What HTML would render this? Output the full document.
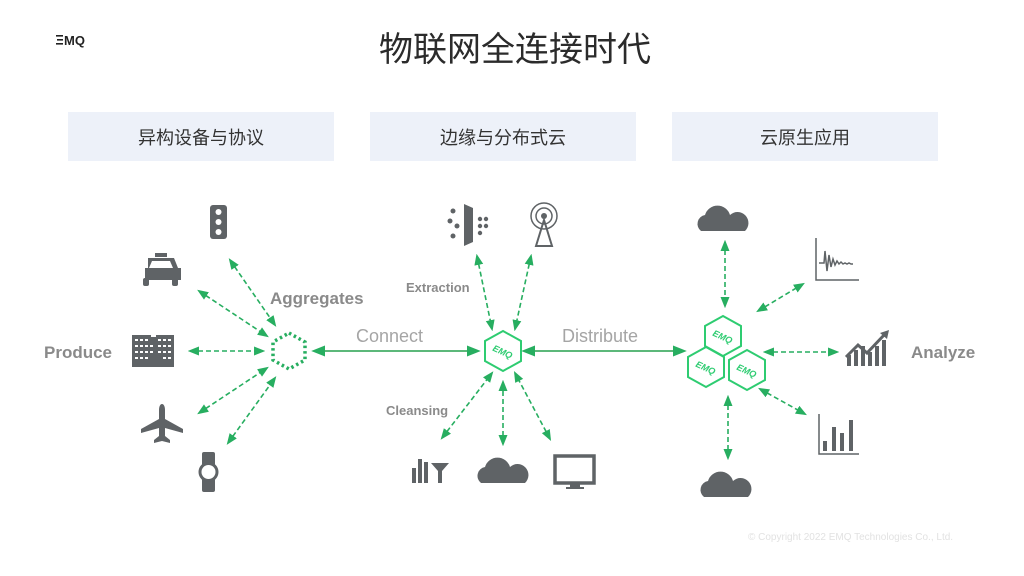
<!DOCTYPE html>
<html><head><meta charset="utf-8"><style>
html,body{margin:0;padding:0;background:#fff;}
svg{display:block;}
text{font-family:"Liberation Sans","Noto Sans CJK SC",sans-serif;}
</style></head><body>
<svg width="1024" height="576" viewBox="0 0 1024 576" xmlns="http://www.w3.org/2000/svg">
<defs>
<marker id="a" viewBox="0 0 10 10" refX="8" refY="5" markerWidth="7" markerHeight="7" orient="auto-start-reverse"><path d="M0,1 L10,5 L0,9 z" fill="#27ae60"/></marker>
</defs>
<g fill="#222"><rect x="56" y="35" width="7" height="1.6"/><rect x="57" y="39" width="6" height="1.6"/><rect x="56" y="43" width="7" height="1.6"/></g>
<text x="64" y="45" font-size="13" font-weight="bold" fill="#222">MQ</text>
<text x="515" y="61" font-size="34" fill="#2b2b2b" text-anchor="middle">物联网全连接时代</text>
<rect x="68" y="112" width="266" height="49" fill="#edf1f9"/>
<rect x="370" y="112" width="266" height="49" fill="#edf1f9"/>
<rect x="672" y="112" width="266" height="49" fill="#edf1f9"/>
<text x="201" y="144" font-size="18" fill="#333" text-anchor="middle">异构设备与协议</text>
<text x="503" y="144" font-size="18" fill="#333" text-anchor="middle">边缘与分布式云</text>
<text x="805" y="144" font-size="18" fill="#333" text-anchor="middle">云原生应用</text>
<g fill="#8a8a8a" font-weight="bold">
<text x="44" y="358" font-size="17">Produce</text>
<text x="270" y="304" font-size="17">Aggregates</text>
<text x="406" y="292" font-size="13">Extraction</text>
<text x="386" y="415" font-size="13">Cleansing</text>
<text x="911" y="358" font-size="17">Analyze</text>
</g>
<text x="356" y="342" font-size="18" fill="#a5a5a5">Connect</text>
<text x="562" y="342" font-size="18" fill="#a5a5a5">Distribute</text>
<text x="748" y="540" font-size="10" fill="#e2e2e2">© Copyright 2022 EMQ Technologies Co., Ltd.</text>
<g stroke="#27ae60" stroke-width="1.6" stroke-dasharray="5,3" fill="none" marker-start="url(#a)" marker-end="url(#a)">
<line x1="230" y1="260" x2="275" y2="325"/>
<line x1="199" y1="291" x2="267" y2="336"/>
<line x1="190" y1="351" x2="263" y2="351"/>
<line x1="199" y1="413" x2="267" y2="368"/>
<line x1="228" y1="443" x2="275" y2="378"/>
<line x1="477" y1="256" x2="492" y2="329"/>
<line x1="531" y1="256" x2="515" y2="329"/>
<line x1="442" y1="438" x2="492" y2="373"/>
<line x1="503" y1="444" x2="503" y2="382"/>
<line x1="550" y1="439" x2="515" y2="373"/>
<line x1="725" y1="242" x2="725" y2="306"/>
<line x1="728" y1="397" x2="728" y2="458"/>
<line x1="758" y1="311" x2="803" y2="284"/>
<line x1="765" y1="352" x2="837" y2="352"/>
<line x1="760" y1="389" x2="805" y2="414"/>
</g>
<g stroke="#5cb87a" stroke-width="2" marker-start="url(#a)" marker-end="url(#a)">
<line x1="314" y1="351" x2="478" y2="351"/>
<line x1="524" y1="351" x2="684" y2="351"/>
</g>
<polygon points="289,333 305,342 305,360 289,369 273,360 273,342" fill="none" stroke="#27ae60" stroke-width="3.5" stroke-dasharray="2.5,3"/>
<g fill="none" stroke="#2ecc71" stroke-width="2">
<polygon points="503,331 521,341 521,361 503,371 485,361 485,341"/>
<polygon points="723,316 741,326 741,346 723,356 705,346 705,326"/>
<polygon points="706,347 724,357 724,377 706,387 688,377 688,357"/>
<polygon points="747,350 765,360 765,380 747,390 729,380 729,360"/>
</g>
<g fill="#2ecc71" font-size="9" font-weight="bold" font-style="italic" text-anchor="middle">
<text x="503" y="355" transform="rotate(25 503 351)">EMQ</text>
<text x="723" y="340" transform="rotate(25 723 336)">EMQ</text>
<text x="706" y="371" transform="rotate(25 706 367)">EMQ</text>
<text x="747" y="374" transform="rotate(25 747 370)">EMQ</text>
</g>
<g fill="#5f6366">
<rect x="210" y="205" width="17" height="34" rx="3"/>
<g fill="#fff"><circle cx="218.5" cy="212" r="3"/><circle cx="218.5" cy="222" r="3"/><circle cx="218.5" cy="232" r="3"/></g>
<rect x="155" y="253" width="12" height="4"/>
<path d="M148,258 h26 l4,10 h3 v12 h-36 v-12 h3 z"/>
<rect x="143" y="278" width="6" height="8" rx="2"/><rect x="172" y="278" width="6" height="8" rx="2"/>
<path d="M152,261 h18 l3,7 h-24 z" fill="#fff"/>
<rect x="132" y="335" width="42" height="32"/>
<path d="M162,404 c2,0 3,3 3,6 v9 l18,10 v4 l-18,-5 v8 l5,4 v3 l-8,-2 l-8,2 v-3 l5,-4 v-8 l-18,5 v-4 l18,-10 v-9 c0,-3 1,-6 3,-6 z"/>
<rect x="202" y="452" width="13" height="40" rx="2"/><circle cx="208.5" cy="472" r="10"/>
<circle cx="208.5" cy="472" r="7" fill="#fff"/>
<path d="M464,204 l9,4 v34 l-9,4 z"/>
<circle cx="453" cy="211" r="2.5"/><circle cx="450" cy="221" r="2.5"/><circle cx="457" cy="226" r="2.5"/><circle cx="453" cy="236" r="2.5"/>
<circle cx="480" cy="219" r="2.2"/><circle cx="486" cy="219" r="2.2"/><circle cx="480" cy="226" r="2.2"/><circle cx="486" cy="226" r="2.2"/><circle cx="480" cy="233" r="2.2"/>
<path d="M544,220 l-8,26 h16 z" fill="none" stroke="#5f6366" stroke-width="2"/>
<circle cx="544" cy="216" r="3"/>
<circle cx="544" cy="216" r="8" fill="none" stroke="#5f6366" stroke-width="1.5"/>
<circle cx="544" cy="216" r="13" fill="none" stroke="#5f6366" stroke-width="1.5"/>
<rect x="412" y="468" width="4" height="15"/><rect x="418" y="459" width="4" height="24"/><rect x="424" y="462" width="4" height="21"/>
<path d="M431,463 h18 l-7,8 v12 h-4 v-12 z"/>
<path d="M481,483 a9,9 0 0 1 4,-16 a13,13 0 0 1 25,0 a9,9 0 0 1 15,16 z"/>
<path d="M701,231 a9,9 0 0 1 4,-16 a13,13 0 0 1 25,0 a9,9 0 0 1 15,16 z"/>
<path d="M704,497 a9,9 0 0 1 4,-16 a13,13 0 0 1 25,0 a9,9 0 0 1 15,16 z"/>
<rect x="555" y="456" width="39" height="27" fill="none" stroke="#5f6366" stroke-width="3.5"/>
<rect x="570" y="484" width="10" height="4"/><rect x="566" y="487" width="18" height="2"/>
<rect x="847" y="355" width="4" height="11"/><rect x="854" y="350" width="4" height="16"/><rect x="861" y="346" width="4" height="20"/><rect x="868" y="352" width="4" height="14"/><rect x="875" y="346" width="4" height="20"/><rect x="882" y="340" width="4" height="26"/>
<path d="M846,357 l12,-12 l9,8 l18,-19" fill="none" stroke="#5f6366" stroke-width="3"/>
<path d="M880,333 l9,-3 l-2,9 z"/>
</g>
<g fill="none" stroke="#5f6366" stroke-width="1.5">
<path d="M816,238 v42 h43"/>
<path d="M819,263 h5 l1,-12 l2,20 l2,-16 l2,12 l2,-8 l2,6 l2,-4 l2,3 l2,-2 l2,2 l2,-1 l2,1 l2,-1 l2,1 l2,0"/>
<path d="M819,414 v40 h40"/>
</g>
<g fill="#5f6366"><rect x="823" y="441" width="4" height="10"/><rect x="832" y="427" width="4" height="24"/><rect x="840" y="433" width="4" height="18"/><rect x="849" y="420" width="4" height="31"/></g>
<g fill="#fff">
<rect x="135" y="339" width="3" height="2"/><rect x="140" y="339" width="3" height="2"/><rect x="145" y="339" width="3" height="2"/><rect x="158" y="339" width="3" height="2"/><rect x="163" y="339" width="3" height="2"/><rect x="168" y="339" width="3" height="2"/>
<rect x="135" y="345" width="3" height="2"/><rect x="140" y="345" width="3" height="2"/><rect x="145" y="345" width="3" height="2"/><rect x="150" y="345" width="3" height="2"/><rect x="158" y="345" width="3" height="2"/><rect x="163" y="345" width="3" height="2"/><rect x="168" y="345" width="3" height="2"/>
<rect x="135" y="351" width="3" height="2"/><rect x="140" y="351" width="3" height="2"/><rect x="145" y="351" width="3" height="2"/><rect x="150" y="351" width="3" height="2"/><rect x="158" y="351" width="3" height="2"/><rect x="163" y="351" width="3" height="2"/><rect x="168" y="351" width="3" height="2"/>
<rect x="135" y="357" width="3" height="2"/><rect x="140" y="357" width="3" height="2"/><rect x="145" y="357" width="3" height="2"/><rect x="163" y="357" width="3" height="2"/><rect x="168" y="357" width="3" height="2"/>
<rect x="151" y="333" width="5" height="4"/>
</g>
</svg>
</body></html>
